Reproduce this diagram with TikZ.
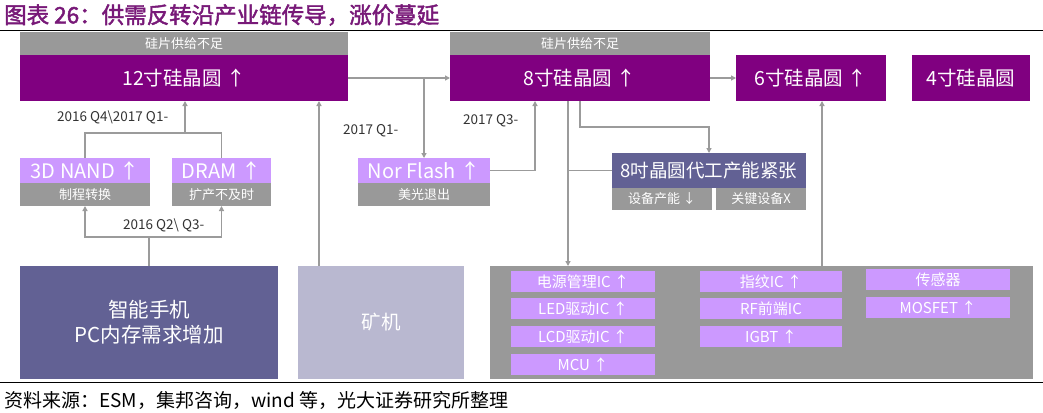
\documentclass[tikz,border=0pt]{standalone}
\usepackage{fontspec}
\setmainfont{Noto Sans CJK SC}
\newfontfamily\titlefont[FakeBold=2]{Noto Sans CJK SC}
\usetikzlibrary{arrows.meta}
\definecolor{wpurple}{RGB}{128,0,128}
\definecolor{lpurple}{RGB}{204,153,255}
\definecolor{slate}{RGB}{98,97,148}
\definecolor{lslate}{RGB}{185,184,208}
\definecolor{gbar}{RGB}{153,153,153}
\definecolor{lnc}{RGB}{155,155,155}
\definecolor{ttl}{RGB}{120,25,120}
\begin{document}
\begin{tikzpicture}[x=1pt,y=-1pt,
  box/.style={inner sep=0pt, outer sep=0pt, anchor=north west, text=white, align=center},
  conn/.style={draw=lnc, line width=1.5pt},
  arr/.style={conn, -{Triangle[width=5pt,length=5pt]}},
  lbl/.style={font=\fontsize{13.5}{15}\selectfont, text=black!80, inner sep=0pt, anchor=west},
  fbig/.style={font=\fontsize{19.5}{22}\selectfont},
  fmid/.style={font=\fontsize{20}{22}\selectfont},
  fsmall/.style={font=\fontsize{13}{15}\selectfont},
  fic/.style={font=\fontsize{15}{17}\selectfont}
]
\useasboundingbox[fill=white] (0,0) rectangle (1043,412);

% title and rules
\node[anchor=west, inner sep=0pt, text=ttl, font=\titlefont\fontsize{22.5}{25}\selectfont] (title) at (4,15) {图表 26：供需反转沿产业链传导，涨价蔓延};
\draw[black, line width=1pt] (0,31) -- (1043,31);
\draw[black, line width=1pt] (0,382) -- (1043,382);
\node[anchor=west, inner sep=0pt, font=\fontsize{19}{22}\selectfont] (src) at (4,400) {资料来源：ESM，集邦咨询，wind 等，光大证券研究所整理};

% wafers
\node[box, fill=gbar, fsmall, minimum width=328pt, minimum height=23pt] (s12) at (20,32) {硅片供给不足};
\node[box, fill=wpurple, fbig, minimum width=328pt, minimum height=46pt] (w12) at (20,55) {12寸硅晶圆 ↑};
\node[box, fill=gbar, fsmall, minimum width=260pt, minimum height=23pt] (s8) at (450,32) {硅片供给不足};
\node[box, fill=wpurple, fbig, minimum width=260pt, minimum height=46pt] (w8) at (450,55) {8寸硅晶圆 ↑};
\node[box, fill=wpurple, fbig, minimum width=150pt, minimum height=46pt] (w6) at (736,55) {6寸硅晶圆 ↑};
\node[box, fill=wpurple, fbig, minimum width=118pt, minimum height=46pt] (w4) at (912,55) {4寸硅晶圆};

% memory
\node[box, fill=lpurple, fmid, minimum width=130pt, minimum height=25pt] (nand) at (20,158) {3D NAND ↑};
\node[box, fill=gbar, fsmall, minimum width=130pt, minimum height=23pt] (nandsub) at (20,183) {制程转换};
\node[box, fill=lpurple, fmid, minimum width=99pt, minimum height=25pt] (dram) at (172,158) {DRAM ↑};
\node[box, fill=gbar, fsmall, minimum width=99pt, minimum height=23pt] (dramsub) at (172,183) {扩产不及时};
\node[box, fill=lpurple, fmid, minimum width=132pt, minimum height=25pt] (nor) at (358,158) {Nor Flash ↑};
\node[box, fill=gbar, fsmall, minimum width=132pt, minimum height=23pt] (norsub) at (358,183) {美光退出};

% foundry
\node[box, fill=slate, font=\fontsize{18.5}{21}\selectfont, minimum width=194pt, minimum height=35pt] (fab) at (612,153) {8吋晶圆代工产能紧张};
\node[box, fill=gbar, fsmall, minimum width=100pt, minimum height=22pt] (fab1) at (612,188) {设备产能 ↓};
\node[box, fill=gbar, fsmall, minimum width=90pt, minimum height=22pt] (fab2) at (716,188) {关键设备X};

% demand
\node[box, fill=slate, font=\fontsize{20.5}{25}\selectfont, minimum width=258pt, minimum height=113pt] (phone) at (20,266) {智能手机\\PC内存需求增加};
\node[box, fill=lslate, fbig, minimum width=166pt, minimum height=113pt] (mine) at (298,266) {矿机};
\node[box, fill=gbar, minimum width=543pt, minimum height=113pt] (ic) at (490,266) {};

% chips
\node[box, fill=lpurple, fic, minimum width=144pt, minimum height=21pt] (pm) at (511,271) {电源管理IC ↑};
\node[box, fill=lpurple, fic, minimum width=144pt, minimum height=21pt] (led) at (511,298) {LED驱动IC ↑};
\node[box, fill=lpurple, fic, minimum width=144pt, minimum height=21pt] (lcd) at (511,326) {LCD驱动IC ↑};
\node[box, fill=lpurple, fic, minimum width=144pt, minimum height=21pt] (mcu) at (511,354) {MCU ↑};
\node[box, fill=lpurple, fic, minimum width=142pt, minimum height=21pt] (fp) at (700,271) {指纹IC ↑};
\node[box, fill=lpurple, fic, minimum width=142pt, minimum height=21pt] (rf) at (700,298) {RF前端IC};
\node[box, fill=lpurple, fic, minimum width=142pt, minimum height=21pt] (igbt) at (700,326) {IGBT ↑};
\node[box, fill=lpurple, fic, minimum width=144pt, minimum height=21pt] (sens) at (866,269) {传感器};
\node[box, fill=lpurple, fic, minimum width=144pt, minimum height=21pt] (mos) at (866,297) {MOSFET ↑};

% labels
\node[lbl] (l1) at (57,117) {2016 Q4\textbackslash 2017 Q1-};
\node[lbl] (l2) at (123,225) {2016 Q2\textbackslash\ Q3-};
\node[lbl] (l3) at (343,131) {2017 Q1-};
\node[lbl] (l4) at (463,121) {2017 Q3-};

% connectors
\coordinate (j1) at (185,133);
\coordinate (j2) at (149,237);
\draw[conn] (nand.north) |- (j1) -| (dram.north);
\draw[arr] (j1) -- (j1 |- w12.south);
\draw[conn] (phone.north) -- (j2);
\draw[arr] (j2) -| (nandsub.south);
\draw[arr] (j2) -| (dramsub.south);
\draw[arr] ([xshift=21pt]mine.north west) -- ([xshift=21pt]mine.north west |- w12.south);
\draw[arr] (w12.east) -- (w8.west);
\draw[arr] (w12.east -| nor.north) -- (nor.north);
\draw[arr] (w8.east) -- (w6.west);
\draw[arr] (nor.east) -| ([xshift=85pt]w8.south west);
\coordinate (d8) at ([xshift=118pt]w8.south west);
\draw[arr] (d8) -- (d8 |- ic.north);
\draw[conn] (fab.west) -- (fab.west -| d8);
\draw[arr] ([xshift=130pt]w8.south west) -- ++(0,26) -| (fab.north);
\coordinate (u6) at ([xshift=86pt]w6.south west);
\draw[arr] (u6 |- ic.north) -- (u6);
\end{tikzpicture}
\end{document}
